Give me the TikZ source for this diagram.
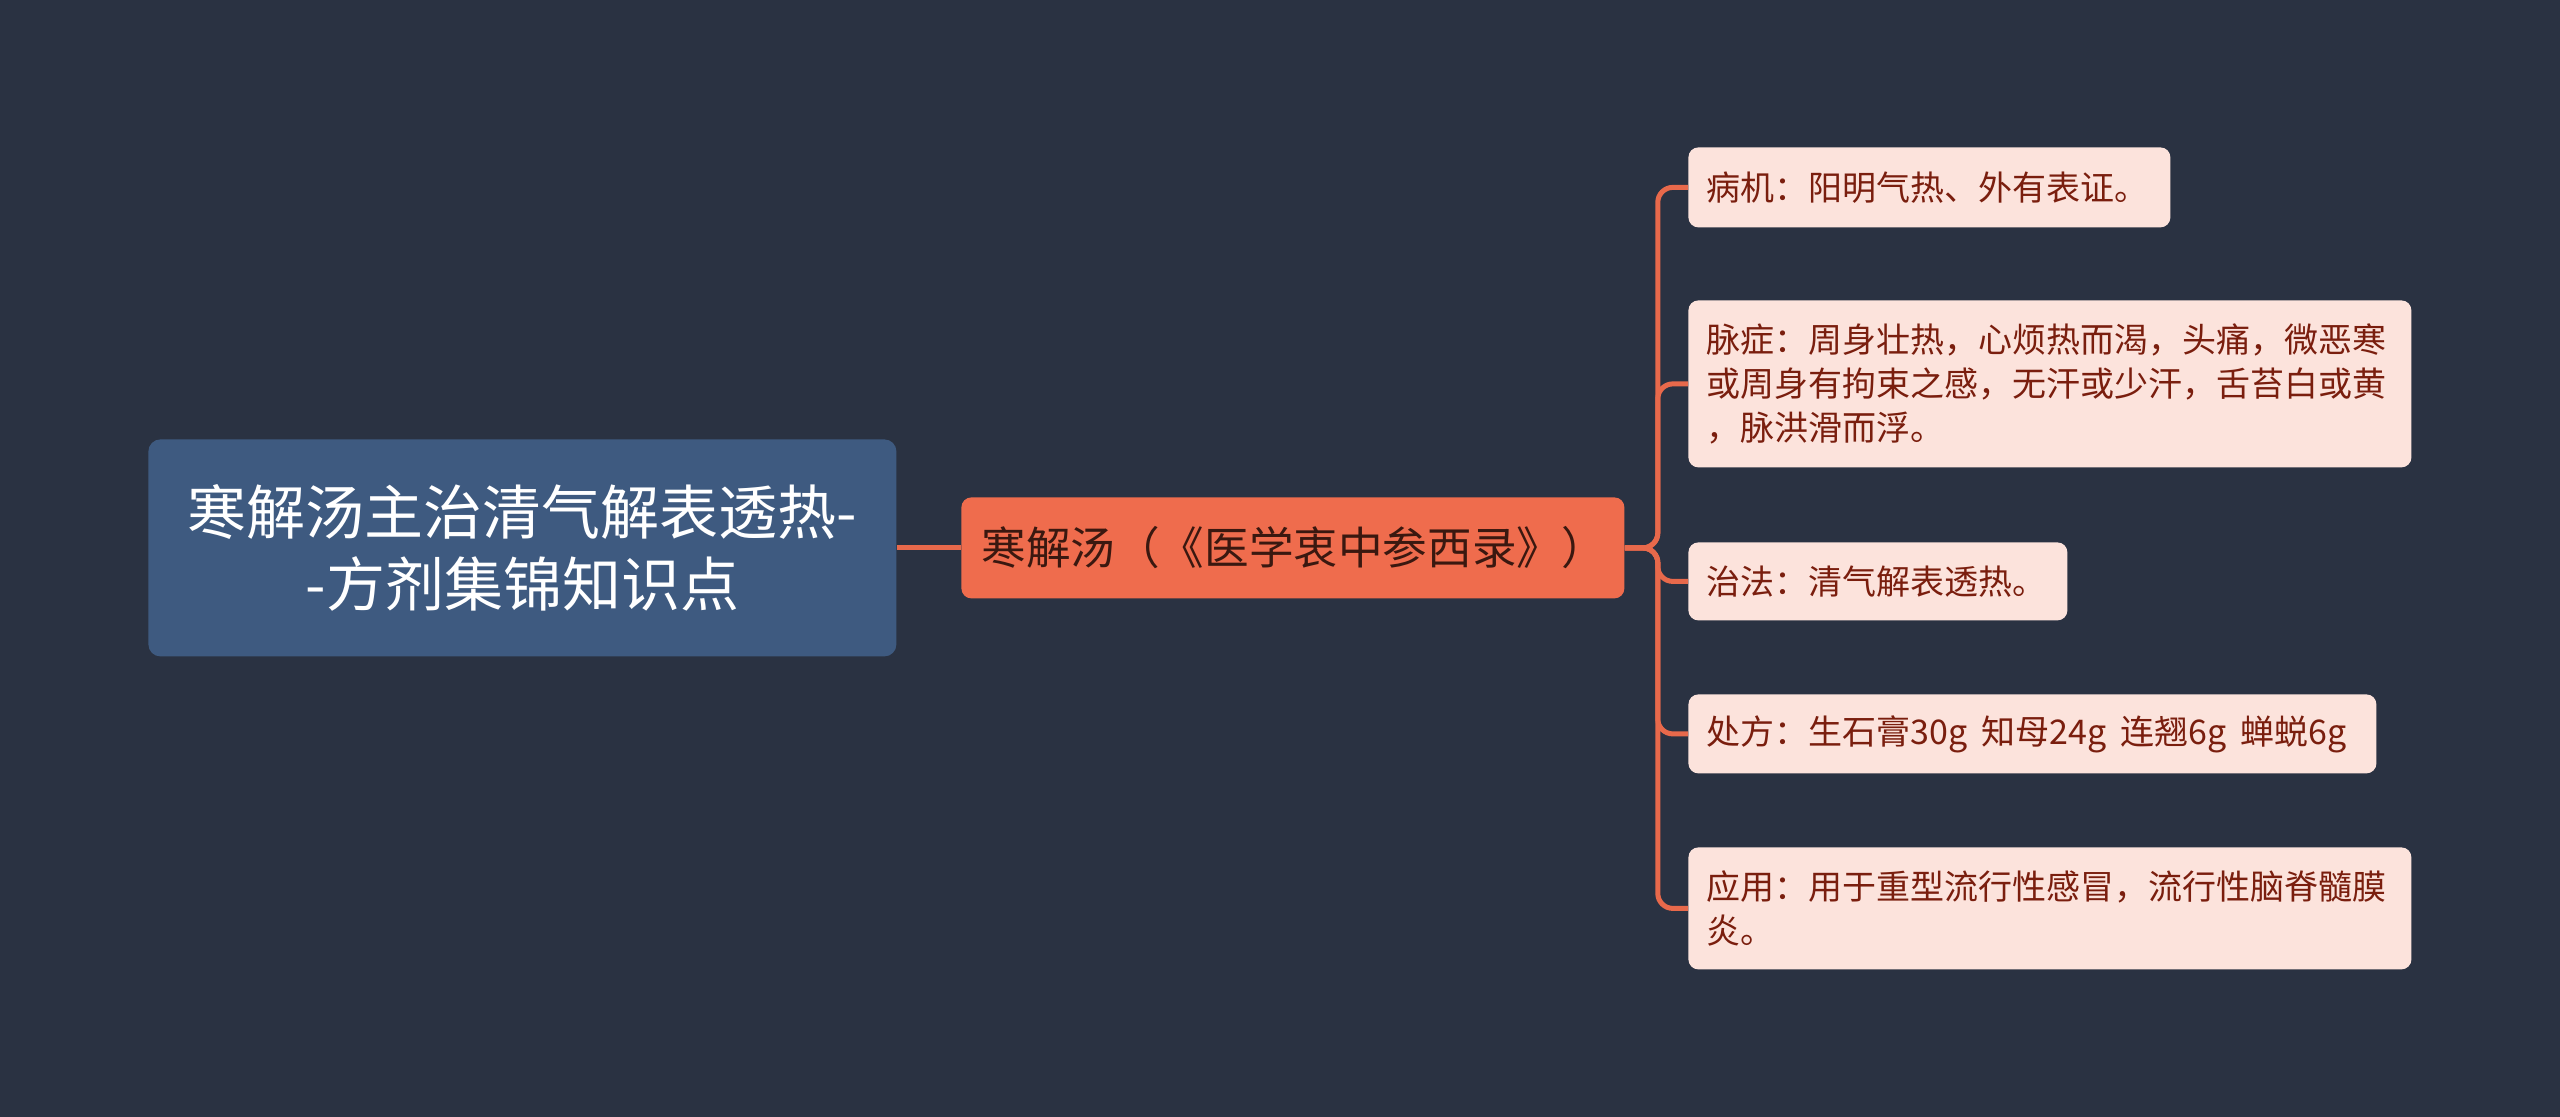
\documentclass[tikz,border=0pt]{standalone}
\usepackage{fontspec}
\setmainfont{Noto Sans CJK SC}
\definecolor{bg}{HTML}{2A3242}
\definecolor{rootfill}{HTML}{3E5A80}
\definecolor{midfill}{HTML}{EF6C4D}
\definecolor{leaffill}{HTML}{FCE3DC}
\definecolor{leaftext}{HTML}{7A1E0E}
\definecolor{midtext}{HTML}{3A1810}
\definecolor{linecol}{HTML}{E8694B}
\begin{document}
\begin{tikzpicture}[x=0.5pt,y=-0.5pt,
  rootbox/.style={fill=rootfill, rounded corners=6pt, text=white, anchor=north west,
    inner xsep=0pt, inner ysep=0pt, align=center, text width=374pt,
    minimum width=374pt, minimum height=108.5pt,
    font=\fontsize{29.5pt}{36pt}\selectfont},
  midbox/.style={fill=midfill, rounded corners=5pt, text=midtext, anchor=north west,
    inner xsep=10pt, inner ysep=0pt, align=left, text width=311.5pt,
    minimum width=331.5pt, minimum height=50.5pt,
    font=\fontsize{22.3pt}{26pt}\selectfont},
  leafbox/.style={fill=leaffill, rounded corners=5pt, text=leaftext, anchor=north west,
    inner xsep=9pt, inner ysep=0pt, align=left,
    font=\fontsize{17pt}{22pt}\selectfont},
  connline/.style={draw=linecol, line width=2.5pt}
]
\useasboundingbox[fill=bg] (0,0) rectangle (2560,1117);

\node[rootbox] (root) at (148,439) {寒解汤主治清气解表透热-\\-方剂集锦知识点};
\node[midbox] (mid) at (961,497) {寒解汤（《医学衷中参西录》）};

\node[leafbox, minimum width=241pt, text width=223pt, minimum height=40pt] (l1) at (1688,147)
  {病机：阳明气热、外有表证。};
\node[leafbox, minimum width=361.5pt, text width=343.5pt, minimum height=83.5pt] (l2) at (1688,300)
  {脉症：周身壮热，心烦热而渴，头痛，微恶寒\\或周身有拘束之感，无汗或少汗，舌苔白或黄\\，脉洪滑而浮。};
\node[leafbox, minimum width=189.5pt, text width=171.5pt, minimum height=39pt] (l3) at (1688,542)
  {治法：清气解表透热。};
\node[leafbox, minimum width=344pt, text width=326pt, minimum height=39.5pt] (l4) at (1688,694)
  {处方：生石膏30g\hspace{7pt}知母24g\hspace{7pt}连翘6g\hspace{7pt}蝉蜕6g};
\node[leafbox, minimum width=361.5pt, text width=343.5pt, minimum height=61pt] (l5) at (1688,847)
  {应用：用于重型流行性感冒，流行性脑脊髓膜\\炎。};

\draw[connline] (root.east) -- (mid.west);
\foreach \l in {l1,l2,l3,l4,l5}
  \draw[connline, rounded corners=7.5pt] (mid.east) -- ++(33,0) |- (\l.west);
\end{tikzpicture}
\end{document}
